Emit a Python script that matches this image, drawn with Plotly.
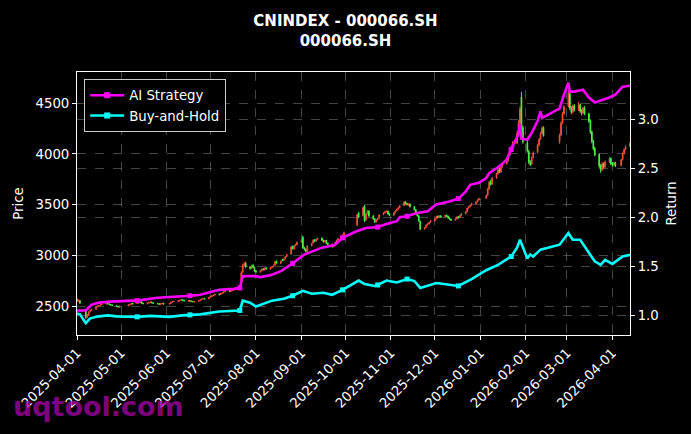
import pandas as pd
import plotly.graph_objects as go

# SSE closed days inside the window (weekends are dropped by bdate_range)
HOLIDAYS = [
    "2025-04-04", "2025-05-01", "2025-05-02", "2025-05-05", "2025-06-02",
    "2025-10-01", "2025-10-02", "2025-10-03", "2025-10-06", "2025-10-07", "2025-10-08",
    "2026-01-01", "2026-01-02", "2026-02-16", "2026-02-17", "2026-02-18",
    "2026-02-19", "2026-02-20", "2026-02-23", "2026-04-06",
]

# daily candles, one line per month (2025-04 ... 2026-04)
OPEN = [
    2572, 2552, 2558, 2470, 2395, 2415, 2450, 2466, 2474, 2497, 2505, 2512, 2519, 2524, 2531, 2526, 2520, 2516, 2508, 2501, 2494,
    2506, 2514, 2522, 2533, 2528, 2544, 2537, 2546, 2534, 2527, 2532, 2541, 2545, 2537, 2531, 2528, 2521, 2527, 2532,
    2524, 2531, 2542, 2549, 2551, 2557, 2561, 2567, 2563, 2554, 2559, 2553, 2550, 2545, 2551, 2557, 2566, 2573, 2580, 2576,
    2591, 2599, 2606, 2613, 2622, 2617, 2629, 2636, 2646, 2655, 2649, 2656, 2661, 2673, 2682, 2705, 2838, 2908, 2925, 2888, 2876, 2905, 2884,
    2850, 2838, 2853, 2870, 2860, 2880, 2868, 2884, 2892, 2908, 2945, 2925, 2962, 2952, 2970, 2992, 3015, 3090, 3066, 3098, 3108,
    3132, 3180, 3078, 3064, 3045, 3098, 3124, 3155, 3142, 3162, 3172, 3152, 3137, 3150, 3122, 3112, 3088, 3098, 3133, 3152, 3168, 3204,
    3300, 3420, 3395, 3490, 3350, 3412, 3438, 3392, 3362, 3332, 3352, 3368, 3404, 3422, 3432, 3438, 3412,
    3398, 3422, 3442, 3457, 3472, 3494, 3528, 3512, 3498, 3508, 3482, 3452, 3422, 3392, 3338, 3262, 3278, 3302, 3312, 3327,
    3342, 3362, 3388, 3377, 3392, 3382, 3398, 3388, 3372, 3357, 3350, 3362, 3382, 3374, 3397, 3412, 3432, 3467, 3482, 3497, 3512, 3529, 3547,
    3565, 3595, 3655, 3728, 3702, 3765, 3805, 3848, 3822, 3875, 3905, 3935, 3985, 4035, 4070, 4105, 4205, 4305, 4560, 4260,
    4110, 4025, 3925, 3900, 3965, 4015, 4088, 4145, 4205, 4262, 4120, 4185, 4305, 4395,
    4470, 4590, 4455, 4415, 4475, 4435, 4485, 4425, 4405, 4455, 4395, 4325, 4215, 4125, 4055, 3995, 3885, 3845, 3905, 3875, 3925, 3955,
    3905, 3892, 3915, 3885, 3945, 4005, 4045, 4075,
]
HIGH = [
    2578, 2566, 2562, 2472, 2425, 2452, 2470, 2478, 2500, 2510, 2515, 2524, 2528, 2536, 2535, 2530, 2524, 2520, 2512, 2506, 2508,
    2520, 2526, 2535, 2538, 2548, 2550, 2550, 2550, 2538, 2538, 2545, 2549, 2548, 2540, 2535, 2532, 2533, 2536, 2536,
    2535, 2546, 2553, 2556, 2561, 2565, 2571, 2572, 2566, 2562, 2563, 2557, 2554, 2555, 2560, 2570, 2577, 2583, 2584, 2596,
    2603, 2610, 2617, 2626, 2626, 2633, 2640, 2650, 2658, 2659, 2660, 2666, 2678, 2686, 2708, 2845, 2920, 2935, 2940, 2898, 2912, 2915, 2892,
    2858, 2857, 2874, 2876, 2883, 2886, 2890, 2897, 2912, 2948, 2952, 2952, 2968, 2975, 2996, 3018, 3095, 3100, 3102, 3118, 3140,
    3160, 3195, 3088, 3070, 3102, 3128, 3160, 3162, 3166, 3178, 3178, 3158, 3154, 3155, 3128, 3118, 3100, 3138, 3158, 3172, 3208, 3236,
    3410, 3430, 3480, 3500, 3418, 3450, 3445, 3398, 3370, 3358, 3372, 3408, 3428, 3440, 3445, 3442, 3418,
    3426, 3448, 3462, 3478, 3498, 3535, 3534, 3518, 3512, 3514, 3488, 3458, 3428, 3398, 3345, 3282, 3306, 3318, 3332, 3348,
    3368, 3392, 3394, 3398, 3396, 3402, 3404, 3394, 3378, 3362, 3366, 3388, 3388, 3402, 3418, 3438, 3472, 3488, 3502, 3518, 3535, 3552, 3568,
    3600, 3668, 3735, 3745, 3772, 3815, 3858, 3860, 3885, 3915, 3945, 3998, 4048, 4082, 4125, 4225, 4330, 4470, 4610, 4280,
    4135, 4040, 3940, 3975, 4025, 4095, 4155, 4215, 4270, 4270, 4200, 4320, 4410, 4480,
    4620, 4600, 4470, 4485, 4490, 4510, 4495, 4440, 4465, 4470, 4405, 4340, 4230, 4140, 4070, 4005, 3900, 3920, 3915, 3935, 3970, 3965,
    3920, 3925, 3922, 3950, 4015, 4055, 4085, 4115,
]
LOW = [
    2548, 2546, 2528, 2378, 2385, 2408, 2444, 2458, 2470, 2492, 2500, 2508, 2514, 2520, 2522, 2515, 2510, 2505, 2495, 2490, 2490,
    2502, 2510, 2518, 2520, 2524, 2532, 2532, 2528, 2522, 2522, 2528, 2536, 2532, 2526, 2522, 2518, 2516, 2522, 2520,
    2520, 2527, 2538, 2544, 2546, 2552, 2556, 2558, 2550, 2550, 2548, 2545, 2542, 2541, 2547, 2553, 2562, 2569, 2570, 2572,
    2586, 2594, 2602, 2609, 2610, 2612, 2624, 2630, 2641, 2642, 2644, 2650, 2656, 2668, 2678, 2700, 2826, 2895, 2880, 2862, 2868, 2876, 2840,
    2832, 2830, 2846, 2855, 2855, 2864, 2862, 2878, 2886, 2902, 2920, 2918, 2946, 2945, 2964, 2986, 3010, 3060, 3058, 3090, 3102,
    3126, 3068, 3050, 3030, 3038, 3092, 3118, 3135, 3136, 3156, 3145, 3128, 3130, 3115, 3104, 3080, 3082, 3092, 3128, 3146, 3162, 3198,
    3290, 3370, 3388, 3330, 3340, 3405, 3382, 3352, 3322, 3325, 3345, 3362, 3398, 3415, 3425, 3405, 3388,
    3392, 3415, 3436, 3450, 3466, 3488, 3502, 3494, 3492, 3474, 3444, 3414, 3384, 3334, 3250, 3255, 3270, 3296, 3305, 3320,
    3336, 3356, 3368, 3370, 3374, 3376, 3380, 3364, 3350, 3342, 3344, 3356, 3366, 3368, 3390, 3406, 3426, 3460, 3476, 3490, 3506, 3522, 3540,
    3555, 3585, 3645, 3690, 3695, 3755, 3795, 3810, 3815, 3865, 3895, 3925, 3975, 4025, 4060, 4095, 4190, 4295, 4230, 4100,
    4015, 3900, 3880, 3890, 3955, 4005, 4075, 4135, 4195, 4170, 4100, 4175, 4295, 4385,
    4455, 4430, 4390, 4400, 4415, 4420, 4405, 4380, 4395, 4380, 4305, 4195, 4105, 4035, 3975, 3860, 3815, 3830, 3855, 3860, 3910, 3890,
    3875, 3880, 3870, 3878, 3935, 3995, 4035, 4065,
]
CLOSE = [
    2556, 2561, 2532, 2392, 2418, 2446, 2462, 2470, 2495, 2503, 2510, 2518, 2522, 2530, 2527, 2520, 2514, 2510, 2500, 2496, 2502,
    2515, 2521, 2530, 2526, 2542, 2538, 2545, 2532, 2528, 2533, 2540, 2544, 2536, 2530, 2527, 2522, 2528, 2531, 2525,
    2530, 2541, 2548, 2550, 2556, 2560, 2566, 2562, 2555, 2558, 2552, 2549, 2546, 2550, 2556, 2565, 2572, 2578, 2575, 2590,
    2598, 2605, 2612, 2620, 2616, 2628, 2634, 2645, 2652, 2648, 2655, 2660, 2672, 2680, 2700, 2830, 2905, 2918, 2890, 2875, 2900, 2885, 2852,
    2840, 2852, 2868, 2862, 2877, 2870, 2885, 2890, 2905, 2940, 2928, 2945, 2955, 2968, 2990, 3010, 3086, 3070, 3095, 3110, 3130,
    3150, 3075, 3060, 3040, 3095, 3120, 3152, 3140, 3160, 3170, 3150, 3135, 3148, 3120, 3110, 3086, 3095, 3130, 3150, 3165, 3200, 3225,
    3400, 3380, 3470, 3345, 3410, 3440, 3390, 3360, 3330, 3350, 3365, 3400, 3420, 3430, 3435, 3410, 3395,
    3420, 3440, 3455, 3470, 3490, 3525, 3510, 3500, 3505, 3480, 3450, 3420, 3390, 3340, 3260, 3275, 3300, 3310, 3325, 3340,
    3360, 3385, 3375, 3390, 3380, 3395, 3385, 3370, 3355, 3348, 3360, 3380, 3372, 3395, 3410, 3430, 3465, 3480, 3495, 3510, 3527, 3545, 3560,
    3590, 3650, 3720, 3700, 3760, 3800, 3840, 3820, 3870, 3900, 3930, 3980, 4030, 4066, 4100, 4200, 4300, 4440, 4250, 4120,
    4030, 3920, 3895, 3960, 4010, 4083, 4140, 4200, 4250, 4180, 4180, 4300, 4390, 4460,
    4600, 4450, 4410, 4470, 4430, 4480, 4420, 4400, 4450, 4390, 4320, 4210, 4120, 4050, 3990, 3880, 3840, 3900, 3870, 3920, 3950, 3900,
    3890, 3910, 3880, 3940, 4000, 4040, 4070, 4100,
]

# cumulative return curves
AI_DATES = [
    "2025-04-01", "2025-04-07", "2025-04-09", "2025-04-11", "2025-04-16", "2025-04-24", "2025-05-09", "2025-05-12",
    "2025-05-26", "2025-06-12", "2025-06-17", "2025-06-24", "2025-07-07", "2025-07-17", "2025-07-21", "2025-07-22",
    "2025-07-23", "2025-08-01", "2025-08-04", "2025-08-11", "2025-08-18", "2025-08-26", "2025-09-03", "2025-09-15",
    "2025-09-24", "2025-09-29", "2025-10-09", "2025-10-15", "2025-10-23", "2025-10-29", "2025-11-05", "2025-11-07",
    "2025-11-12", "2025-11-18", "2025-11-26", "2025-12-02", "2025-12-11", "2025-12-17", "2025-12-22", "2025-12-25",
    "2025-12-31", "2026-01-05", "2026-01-07", "2026-01-14", "2026-01-19", "2026-01-22", "2026-01-27", "2026-01-28",
    "2026-01-29", "2026-02-02", "2026-02-05", "2026-02-09", "2026-02-11", "2026-02-12", "2026-02-24", "2026-02-27",
    "2026-03-02", "2026-03-03", "2026-03-06", "2026-03-12", "2026-03-16", "2026-03-20", "2026-03-26", "2026-03-30",
    "2026-04-03", "2026-04-08", "2026-04-13",
]
AI_VALUES = [
    1.05, 1.05, 1.08, 1.11, 1.13, 1.14, 1.15, 1.15,
    1.18, 1.19, 1.20, 1.21, 1.26, 1.27, 1.28, 1.34,
    1.40, 1.40, 1.39, 1.41, 1.45, 1.53, 1.62, 1.69,
    1.72, 1.79, 1.86, 1.89, 1.90, 1.93, 1.96, 2.00,
    2.01, 2.04, 2.06, 2.13, 2.16, 2.19, 2.26, 2.33,
    2.35, 2.40, 2.45, 2.52, 2.59, 2.69, 2.85, 2.95,
    2.80, 2.79, 2.86, 2.98, 3.08, 3.01, 3.11, 3.25,
    3.37, 3.28, 3.28, 3.30, 3.22, 3.17, 3.20, 3.22,
    3.25, 3.33, 3.34,
]
BH_DATES = [
    "2025-04-01", "2025-04-03", "2025-04-07", "2025-04-10", "2025-04-16", "2025-04-22", "2025-04-28", "2025-05-09",
    "2025-05-12", "2025-05-21", "2025-06-03", "2025-06-12", "2025-06-17", "2025-06-24", "2025-07-07", "2025-07-16",
    "2025-07-21", "2025-07-23", "2025-07-28", "2025-08-01", "2025-08-12", "2025-08-20", "2025-08-26", "2025-09-02",
    "2025-09-08", "2025-09-16", "2025-09-22", "2025-09-29", "2025-10-10", "2025-10-14", "2025-10-21", "2025-10-23",
    "2025-10-29", "2025-11-05", "2025-11-12", "2025-11-17", "2025-11-21", "2025-12-02", "2025-12-11", "2025-12-17",
    "2025-12-26", "2026-01-05", "2026-01-13", "2026-01-20", "2026-01-22", "2026-01-26", "2026-01-28", "2026-02-02",
    "2026-02-04", "2026-02-06", "2026-02-11", "2026-02-24", "2026-03-02", "2026-03-05", "2026-03-10", "2026-03-20",
    "2026-03-24", "2026-03-27", "2026-04-01", "2026-04-08", "2026-04-13",
]
BH_VALUES = [
    1.02, 1.01, 0.92, 0.97, 0.99, 1.00, 0.99, 0.99,
    0.985, 0.995, 0.985, 1.00, 1.005, 1.01, 1.04, 1.05,
    1.05, 1.15, 1.13, 1.09, 1.15, 1.17, 1.20, 1.25,
    1.22, 1.23, 1.21, 1.26, 1.355, 1.32, 1.30, 1.31,
    1.355, 1.335, 1.37, 1.35, 1.28, 1.33, 1.31, 1.30,
    1.37, 1.46, 1.515, 1.58, 1.60, 1.69, 1.77, 1.58,
    1.62, 1.60, 1.67, 1.72, 1.84, 1.77, 1.77, 1.55,
    1.515, 1.566, 1.525, 1.60, 1.617,
]

# monthly rebalance points marked on both curves
SIGNAL_DATES = [
    "2025-05-12", "2025-06-17", "2025-07-21", "2025-08-26", "2025-09-29",
    "2025-10-23", "2025-11-12", "2025-12-17", "2026-01-22",
]

TITLE = "CNINDEX - 000066.SH"
SUBTITLE = "000066.SH"

FONT = "DejaVu Sans"
GRID = "rgba(150,150,150,0.45)"
FS = 13.3

trade_days = pd.bdate_range("2025-04-01", "2026-04-13")
trade_days = trade_days[~trade_days.isin(pd.to_datetime(HOLIDAYS))]
assert len(trade_days) == len(OPEN) == len(HIGH) == len(LOW) == len(CLOSE), (
    len(trade_days), len(OPEN), len(HIGH), len(LOW), len(CLOSE))

ai = pd.Series(AI_VALUES, index=pd.to_datetime(AI_DATES))
bh = pd.Series(BH_VALUES, index=pd.to_datetime(BH_DATES))
sig = pd.to_datetime(SIGNAL_DATES)

fig = go.Figure()

fig.add_trace(go.Candlestick(
    x=trade_days, open=OPEN, high=HIGH, low=LOW, close=CLOSE,
    increasing=dict(line=dict(color="#f4503f", width=1), fillcolor="#f4503f"),
    decreasing=dict(line=dict(color="#52ee46", width=1), fillcolor="#52ee46"),
    whiskerwidth=0, showlegend=False, hoverinfo="skip",
))

for name, s, color in [("AI Strategy", ai, "#ff00ff"), ("Buy-and-Hold", bh, "#00ffff")]:
    fig.add_trace(go.Scatter(
        x=s.index, y=s.values, yaxis="y2", mode="lines",
        line=dict(color=color, width=2.6), showlegend=False,
    ))
    fig.add_trace(go.Scatter(
        x=sig, y=s.loc[sig].values, yaxis="y2", mode="markers",
        marker=dict(color=color, size=5, symbol="square"), showlegend=False,
    ))
    # legend entry (line with a marker in the middle)
    fig.add_trace(go.Scatter(
        x=[None], y=[None], yaxis="y2", mode="lines+markers", name=name,
        line=dict(color=color, width=2.6), marker=dict(color=color, size=6, symbol="square"),
    ))

axis_common = dict(
    showline=True, linecolor="white", linewidth=1,
    ticks="outside", tickcolor="white", ticklen=4,
    tickfont=dict(color="white", size=FS, family=FONT),
    showgrid=True, gridcolor=GRID, gridwidth=0.8, griddash="dash",
    zeroline=False, automargin=False,
)

fig.update_layout(
    width=691, height=434,
    paper_bgcolor="black", plot_bgcolor="black",
    margin=dict(l=77, r=61, t=72, b=99),
    font=dict(family=FONT, color="white", size=FS),
    title=dict(
        text=f"<b>{TITLE}</b><br><b>{SUBTITLE}</b>",
        x=0.5, xanchor="center", y=0.939, yanchor="middle",
        font=dict(size=15, color="white", family=FONT),
    ),
    xaxis=dict(
        axis_common, mirror=True, type="date",
        range=["2025-04-01", "2026-04-13"],
        tick0="2025-04-01", dtick="M1", tickformat="%Y-%m-%d", tickangle=-45,
        rangeslider=dict(visible=False),
    ),
    yaxis=dict(
        axis_common, range=[2220, 4805], tick0=0, dtick=500,
        title=dict(text="Price", font=dict(size=FS, color="white", family=FONT), standoff=8),
    ),
    yaxis2=dict(
        axis_common, overlaying="y", side="right", range=[0.80, 3.48],
        tick0=0, dtick=0.5, tickformat=".1f",
        title=dict(text="Return", font=dict(size=FS, color="white", family=FONT), standoff=8),
    ),
    legend=dict(
        x=0.013, y=0.973, xanchor="left", yanchor="top",
        bgcolor="black", bordercolor="#cccccc", borderwidth=1,
        font=dict(size=FS, color="white", family=FONT),
        itemwidth=34, tracegroupgap=0,
    ),
    annotations=[dict(
        text="<b>uqtool.com</b>", xref="paper", yref="paper",
        x=-0.119, y=-0.27, xanchor="left", yanchor="middle", showarrow=False,
        font=dict(size=27, color="rgba(160,0,160,0.8)", family=FONT),
    )],
)

# the page body has a default margin; drop it so the figure sits at the window origin
fig.write_html(
    "out.html",
    config={"displayModeBar": False},
    post_script="document.body.style.margin='0';document.body.style.overflow='hidden';",
)
